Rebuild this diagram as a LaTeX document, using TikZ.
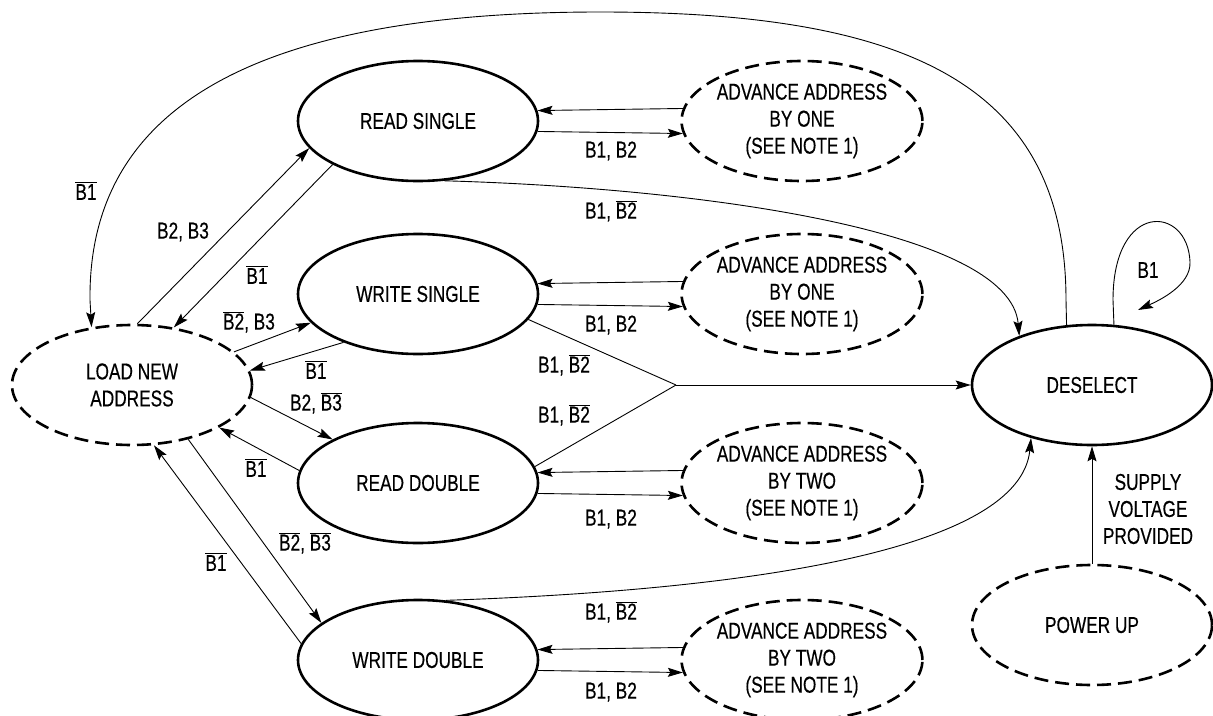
\documentclass[tikz,border=0pt]{standalone}
\usepackage{fontspec}
\setmainfont{Liberation Sans}[FakeStretch=0.75,FakeBold=0.4]
\usetikzlibrary{shapes.geometric,arrows.meta,calc}
\newcommand{\ovl}[1]{$\overline{\mbox{#1}}$}
\begin{document}
\begin{tikzpicture}[x=1pt,y=-1pt,
  font=\fontsize{23}{27}\selectfont,
  state/.style={ellipse, draw, line width=2.6pt, minimum width=240pt, minimum height=120pt, inner sep=0pt, align=center},
  dstate/.style={state, dash pattern=on 14pt off 7pt},
  conn/.style={line width=0.9pt},
  arr/.style={conn, -{Stealth[length=15pt,width=9pt,inset=2.5pt]}},
  lbl/.style={inner sep=0pt, align=center}]
\useasboundingbox (0,0) rectangle (1213,715);

% states
\node[dstate] (ls) at (132,385) {LOAD NEW\\ADDRESS};
\node[state] (rs) at (418,121) {READ SINGLE};
\node[state] (ws) at (418,294) {WRITE SINGLE};
\node[state] (rd) at (418,483) {READ DOUBLE};
\node[state] (wd) at (418,660) {WRITE DOUBLE};
\node[dstate] (a1) at (802,121) {ADVANCE ADDRESS\\BY ONE\\(SEE NOTE 1)};
\node[dstate] (a2) at (802,294) {ADVANCE ADDRESS\\BY ONE\\(SEE NOTE 1)};
\node[dstate] (a3) at (802,483) {ADVANCE ADDRESS\\BY TWO\\(SEE NOTE 1)};
\node[dstate] (a4) at (802,660) {ADVANCE ADDRESS\\BY TWO\\(SEE NOTE 1)};
\node[state] (des) at (1092,385) {DESELECT};
\node[dstate] (pu) at (1092,625) {POWER UP};

\coordinate (j) at (676,385);
\coordinate (loopend) at (1138,310);

% deselect -> load new address (top curve)
\draw[arr] (des.113.9) -- (1066,300) .. controls (1066,80) and (900,12) .. (600,12)
  .. controls (250,12) and (88,110) .. (90,300) -- (ls.125.2);
\node[lbl] at (86,191) {\ovl{B1}};

% load <-> read single
\draw[arr] (ls.85.2) -- (rs.194.8);
\draw[arr] (rs.207.5) -- (ls.54);
\node[lbl] at (183,232) {B2, B3};
\node[lbl] at (257,275) {\ovl{B1}};

% load <-> write single
\draw[arr] (ls.18.4) -- (ws.195.4);
\draw[arr] (ws.213.1) -- (ls.7.6);
\node[lbl] at (249,322) {\ovl{B2}, B3};
\node[lbl] at (316,370) {\ovl{B1}};

% load <-> read double
\draw[arr] (ls.-6) -- (rd.153.5);
\draw[arr] (rd.174.7) -- (ls.-26.5);
\node[lbl] at (316,403) {B2, \ovl{B3}};
\node[lbl] at (256,468) {\ovl{B1}};

% load <-> write double
\draw[arr] (ls.-44.1) -- (wd.159.4);
\draw[arr] (wd.172.7) -- (ls.-70.4);
\node[lbl] at (305,543) {\ovl{B2}, \ovl{B3}};
\node[lbl] at (216,562) {\ovl{B1}};

% advance loops
\draw[arr] (a1.174.2) -- (rs.5.8);
\draw[arr] (rs.-5.8) -- (a1.-174.2);
\node[lbl] at (611,151) {B1, B2};
\draw[arr] (a2.174.2) -- (ws.5.8);
\draw[arr] (ws.-5.8) -- (a2.-174.2);
\node[lbl] at (611,325) {B1, B2};
\draw[arr] (a3.174.2) -- (rd.5.8);
\draw[arr] (rd.-5.8) -- (a3.-174.2);
\node[lbl] at (611,519) {B1, B2};
\draw[arr] (a4.174.2) -- (wd.5.8);
\draw[arr] (wd.-5.8) -- (a4.-174.2);
\node[lbl] at (611,692) {B1, B2};

% read single -> deselect
\draw[arr] (rs.-66.9) .. controls (700,188) and (1010,230) .. (des.146.9);
\node[lbl] at (611,211) {B1, \ovl{B2}};

% write single / read double -> deselect via junction
\draw[conn] (ws.-13) -- (j);
\draw[conn] (rd.8.5) -- (j);
\draw[arr] (j) -- (des.west);
\node[lbl] at (564,365) {B1, \ovl{B2}};
\node[lbl] at (564,415) {B1, \ovl{B2}};

% write double -> deselect
\draw[arr] (wd.65.2) .. controls (750,590) and (1020,550) .. (des.221.5);
\node[lbl] at (611,612) {B1, \ovl{B2}};

% self loop
\draw[arr] (des.70.4) -- (1113,300) .. controls (1113,200) and (1188,205) .. (1190,262)
  .. controls (1191,285) and (1160,300) .. (loopend);
\node[lbl] at (1148,270) {B1};

% power up -> deselect
\draw[arr] (pu.north) -- (des.south);
\node[lbl] at (1148,509) {SUPPLY\\VOLTAGE\\PROVIDED};
\end{tikzpicture}
\end{document}
